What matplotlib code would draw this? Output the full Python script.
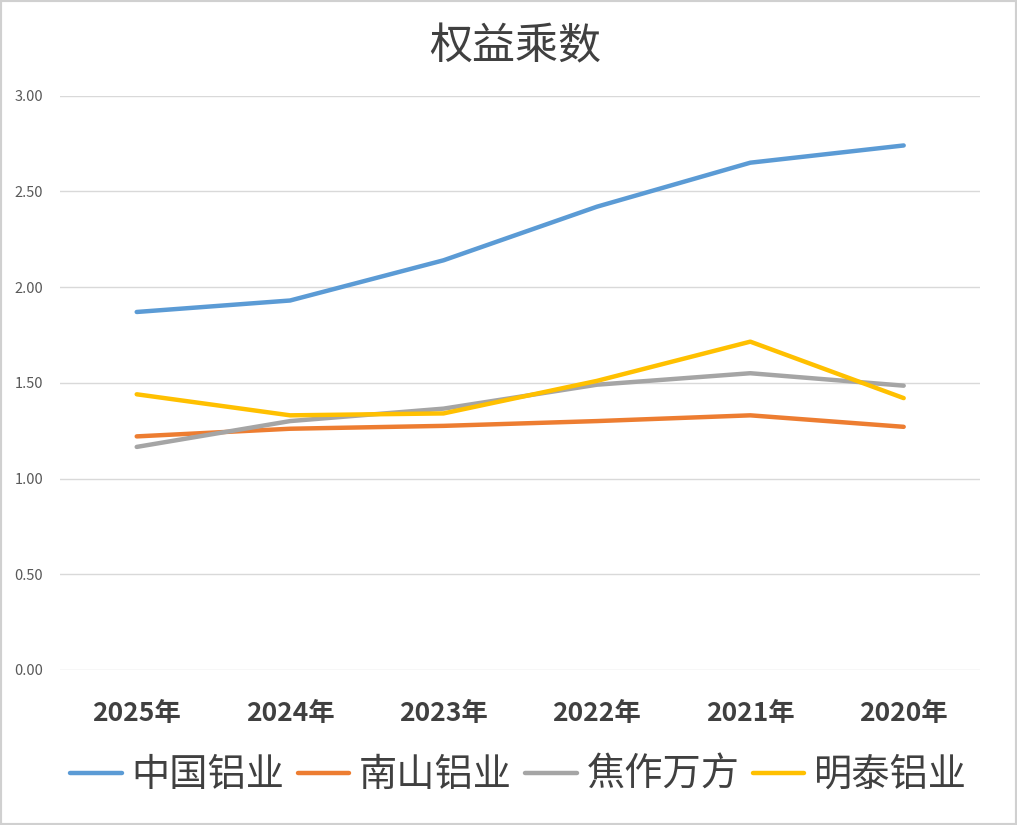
import matplotlib.pyplot as plt
from matplotlib.patches import Rectangle

plt.rcParams['font.family'] = ['Noto Sans CJK SC', 'DejaVu Sans']

years = ["2025年", "2024年", "2023年", "2022年", "2021年", "2020年"]
chalco = [1.87, 1.93, 2.14, 2.42, 2.65, 2.74]
nanshan = [1.22, 1.26, 1.275, 1.30, 1.33, 1.27]
jiaozuo = [1.165, 1.30, 1.365, 1.49, 1.55, 1.485]
mingtai = [1.44, 1.33, 1.34, 1.51, 1.715, 1.42]

series = [("中国铝业", chalco, "#5B9BD5"),
          ("南山铝业", nanshan, "#ED7D31"),
          ("焦作万方", jiaozuo, "#A5A5A5"),
          ("明泰铝业", mingtai, "#FFC000")]

fig = plt.figure(figsize=(10.17, 8.25), dpi=100)
ax = fig.add_axes([0.059, 0.188, 0.905, 0.696])

x = range(len(years))
for name, vals, color in series:
    ax.plot(x, vals, color=color, lw=3.2, label=name, solid_capstyle="round")

ax.set_xlim(-0.5, len(years) - 0.5)
ax.set_ylim(0, 3)
ax.set_yticks([0, 0.5, 1, 1.5, 2, 2.5, 3])
ax.set_yticklabels(["%.2f" % v for v in ax.get_yticks()], fontsize=10.5, color="#595959")
ax.set_xticks(list(x))
ax.set_xticklabels(years, fontsize=19, fontweight="bold", color="#404040")
ax.tick_params(length=0)
ax.tick_params(axis="y", pad=12)
ax.tick_params(axis="x", pad=22)
ax.grid(axis="y", color="#D9D9D9", lw=1)
ax.set_axisbelow(True)
for s in ax.spines.values():
    s.set_visible(False)

fig.text(0.507, 0.942, "权益乘数", ha="center", va="center", fontsize=31, color="#404040")

fig.legend(loc="center", bbox_to_anchor=(0.51, 0.06), ncol=4, frameon=False,
           fontsize=27.5, handlelength=1.35, handletextpad=0.25, columnspacing=0.35,
           labelcolor="#404040")

fig.patches.append(Rectangle((0, 0), 1, 1, transform=fig.transFigure, fill=False,
                             edgecolor="#D0D0D0", lw=3))

fig.savefig("out.png", dpi=100)
